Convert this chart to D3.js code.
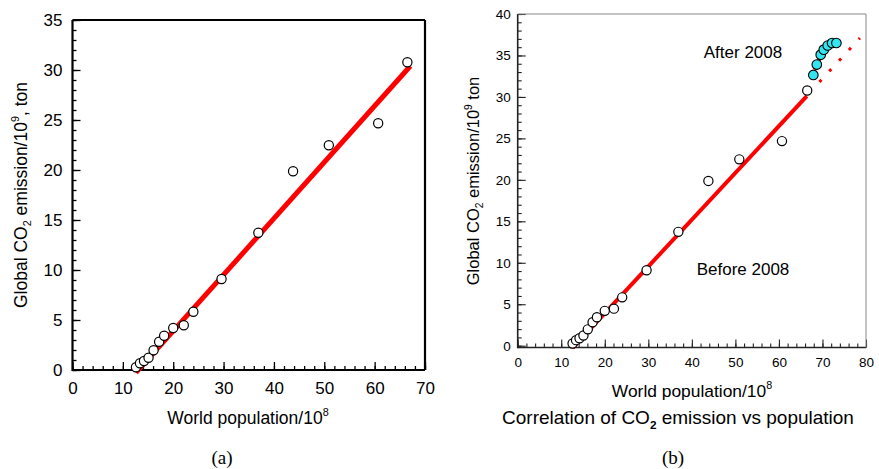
<!DOCTYPE html>
<html><head><meta charset="utf-8">
<script src="https://cdn.jsdelivr.net/npm/d3@7"></script>
<style>html,body{margin:0;padding:0;background:#fff}svg{display:block}</style>
</head><body>
<svg id="c" width="879" height="469"></svg>
<script>
// ---- data ----
const popBefore = [12.6, 13.4, 14.2, 15.1, 16.1, 17.2, 18.2, 20.0, 22.1, 24.0, 29.6, 36.9, 43.8, 50.9, 60.7, 66.5];
const co2Before = [0.27, 0.67, 0.9, 1.23, 1.97, 2.83, 3.43, 4.2, 4.47, 5.83, 9.1, 13.73, 19.87, 22.47, 24.67, 30.77];
const popAfter = [67.9, 68.7, 69.6, 70.3, 71.2, 72.2, 73.2];
const co2After = [32.65, 33.9, 35.1, 35.7, 36.2, 36.5, 36.5];
const fitPop = [12.6, 67.1];
const fitCo2 = [-0.27, 30.4];
const fitPopB = [12.6, 66.4];
const fitCo2B = [-0.27, 30.1];
const afterFitPop = [68.2, 70.0];
const afterFitCo2 = [33.3, 35.4];
const projPop = [69.3, 78.6];
const projCo2 = [31.8, 37.1];
const xTicksA = [0, 10, 20, 30, 40, 50, 60, 70];
const yTicksA = [0, 5, 10, 15, 20, 25, 30, 35];
const xTicksB = [0, 10, 20, 30, 40, 50, 60, 70, 80];
const yTicksB = [0, 5, 10, 15, 20, 25, 30, 35, 40];

const svg = d3.select("#c");
const sans = "Liberation Sans, Arial, sans-serif";
const serif = "Liberation Serif, Times New Roman, serif";

function panel(o) {
  const x = d3.scaleLinear().domain(o.xd).range([o.x0, o.x1]);
  const y = d3.scaleLinear().domain(o.yd).range([o.y0, o.y1]);
  const g = svg.append("g");
  const xMinor = d3.range(o.xd[0], o.xd[1] + 0.001, o.xMinorStep);
  const yMinor = d3.range(o.yd[0], o.yd[1] + 0.001, 1);
  const axX = d3.axisBottom(x).tickValues(xMinor).tickSize(-o.minorLen).tickFormat("");
  const gx = g.append("g").attr("transform", `translate(0,${o.frameBottom})`).call(axX);
  gx.select(".domain").remove();
  gx.selectAll("line").attr("stroke", o.tickColor).attr("stroke-width", o.tickW);
  const axXM = d3.axisBottom(x).tickValues(o.xt).tickSize(-o.majorLen).tickPadding(o.xPad).tickFormat(d3.format("d"));
  const gxm = g.append("g").attr("transform", `translate(0,${o.frameBottom})`).call(axXM);
  gxm.select(".domain").remove();
  gxm.selectAll("line").attr("stroke", o.tickColor).attr("stroke-width", o.tickW);
  gxm.selectAll("text").attr("font-family", sans).attr("font-size", o.tickFont).attr("fill", "#000").attr("dy", "0.71em");
  const axY = d3.axisLeft(y).tickValues(yMinor).tickSize(-o.minorLen).tickFormat("");
  const gy = g.append("g").attr("transform", `translate(${o.x0},0)`).call(axY);
  gy.select(".domain").remove();
  gy.selectAll("line").attr("stroke", o.tickColor).attr("stroke-width", o.tickW);
  const axYM = d3.axisLeft(y).tickValues(o.yt).tickSize(-o.majorLen).tickPadding(o.yPad).tickFormat(d3.format("d"));
  const gym = g.append("g").attr("transform", `translate(${o.x0},0)`).call(axYM);
  gym.select(".domain").remove();
  gym.selectAll("line").attr("stroke", o.tickColor).attr("stroke-width", o.tickW);
  gym.selectAll("text").attr("font-family", sans).attr("font-size", o.tickFont).attr("fill", "#000");
  const top = o.frameTop, bot = o.frameBottom;
  g.append("line").attr("x1", o.x0).attr("x2", o.x0).attr("y1", top).attr("y2", bot + o.axisW / 2).attr("stroke", o.axisColor).attr("stroke-width", o.axisW);
  g.append("line").attr("x1", o.x0).attr("x2", o.x1).attr("y1", bot).attr("y2", bot).attr("stroke", o.axisColor).attr("stroke-width", o.axisW);
  g.append("line").attr("x1", o.x0).attr("x2", o.x1).attr("y1", top).attr("y2", top).attr("stroke", o.frameColor).attr("stroke-width", o.frameW);
  g.append("line").attr("x1", o.x1).attr("x2", o.x1).attr("y1", top).attr("y2", bot).attr("stroke", o.frameColor).attr("stroke-width", o.frameW);
  return {x, y, g};
}

function lineOf(xs, ys, x, y) {
  return d3.line().x(d => x(d[0])).y(d => y(d[1]))(xs.map((v, i) => [v, ys[i]]));
}

function yLabel(g, cx, cy, size, tail) {
  const t = g.append("text").attr("transform", `translate(${cx},${cy}) rotate(-90)`)
    .attr("text-anchor", "middle").attr("font-family", sans).attr("font-size", size).attr("fill", "#000");
  t.append("tspan").text("Global CO");
  t.append("tspan").attr("font-size", size * 0.62).attr("dy", size * 0.25).text("2");
  t.append("tspan").attr("dy", -size * 0.25).text(" emission/10");
  t.append("tspan").attr("font-size", size * 0.62).attr("dy", -size * 0.45).text("9");
  t.append("tspan").attr("dy", size * 0.45).text(tail);
}
function xLabel(g, cx, cy, size) {
  const t = g.append("text").attr("x", cx).attr("y", cy).attr("text-anchor", "middle")
    .attr("font-family", sans).attr("font-size", size).attr("fill", "#000");
  t.append("tspan").text("World population/10");
  t.append("tspan").attr("font-size", size * 0.62).attr("dy", -size * 0.48).text("8");
}

// ---- panel (a) ----
const A = panel({xd: [0, 70], yd: [0, 35], x0: 72.5, x1: 425, y0: 370, y1: 20,
  frameTop: 20, frameBottom: 370, xt: xTicksA, yt: yTicksA, xMinorStep: 2,
  minorLen: 4, majorLen: 8, tickW: 1.3, tickColor: "#000", tickFont: 17, xPad: 12, yPad: 10,
  axisW: 2.2, axisColor: "#000", frameW: 2.2, frameColor: "#000"});
A.g.append("path").attr("d", lineOf(fitPop, fitCo2, A.x, A.y)).attr("stroke", "#ff0000").attr("stroke-width", 5).attr("fill", "none");
A.g.selectAll("circle.a").data(popBefore).join("circle").attr("class", "a")
  .attr("cx", d => A.x(d)).attr("cy", (d, i) => A.y(co2Before[i])).attr("r", 4.6)
  .attr("fill", "#fff").attr("stroke", "#000").attr("stroke-width", 1.2);
yLabel(A.g, 27, 195, 17.5, ", ton");
xLabel(A.g, 248, 424, 17.5);
A.g.append("text").attr("x", 222).attr("y", 464).attr("text-anchor", "middle").attr("font-family", serif).attr("font-size", 19).text("(a)");

// ---- panel (b) ----
const B = panel({xd: [0, 80], yd: [0, 40], x0: 517.7, x1: 866, y0: 345.7, y1: 14,
  frameTop: 14, frameBottom: 347.5, xt: xTicksB, yt: yTicksB, xMinorStep: 2,
  minorLen: 4, majorLen: 8, tickW: 1.1, tickColor: "#222", tickFont: 13.5, xPad: 10, yPad: 7,
  axisW: 1.6, axisColor: "#222", frameW: 1, frameColor: "#888"});
B.g.append("path").attr("d", lineOf(fitPopB, fitCo2B, B.x, B.y)).attr("stroke", "#ff0000").attr("stroke-width", 4).attr("fill", "none");
B.g.append("path").attr("d", lineOf(afterFitPop, afterFitCo2, B.x, B.y)).attr("stroke", "#ff0000").attr("stroke-width", 4).attr("fill", "none");
B.g.append("path").attr("d", lineOf(projPop, projCo2, B.x, B.y)).attr("stroke", "#ff0000").attr("stroke-width", 3)
  .attr("stroke-dasharray", "3,11.5").attr("fill", "none");
B.g.selectAll("circle.b").data(popBefore).join("circle").attr("class", "b")
  .attr("cx", d => B.x(d)).attr("cy", (d, i) => B.y(co2Before[i])).attr("r", 4.6)
  .attr("fill", "#fff").attr("stroke", "#000").attr("stroke-width", 1.2);
B.g.selectAll("circle.c").data(popAfter).join("circle").attr("class", "c")
  .attr("cx", d => B.x(d)).attr("cy", (d, i) => B.y(co2After[i])).attr("r", 4.8)
  .attr("fill", "#33e5f0").attr("stroke", "#000").attr("stroke-width", 1.1);
B.g.append("text").attr("x", 743).attr("y", 58).attr("text-anchor", "middle").attr("font-family", sans).attr("font-size", 17).text("After 2008");
B.g.append("text").attr("x", 743).attr("y", 275).attr("text-anchor", "middle").attr("font-family", sans).attr("font-size", 17).text("Before 2008");
yLabel(B.g, 479, 181, 16.5, " ton");
xLabel(B.g, 692, 397, 17.4);
{
  const s = 19;
  const t = B.g.append("text").attr("x", 678).attr("y", 424).attr("text-anchor", "middle")
    .attr("font-family", sans).attr("font-size", s).attr("fill", "#000");
  t.append("tspan").text("Correlation of CO");
  t.append("tspan").attr("font-size", s * 0.62).attr("font-weight", "bold").attr("dy", s * 0.25).text("2");
  t.append("tspan").attr("dy", -s * 0.25).text(" emission vs population");
}
B.g.append("text").attr("x", 673).attr("y", 464).attr("text-anchor", "middle").attr("font-family", serif).attr("font-size", 19).text("(b)");
</script>
</body></html>
